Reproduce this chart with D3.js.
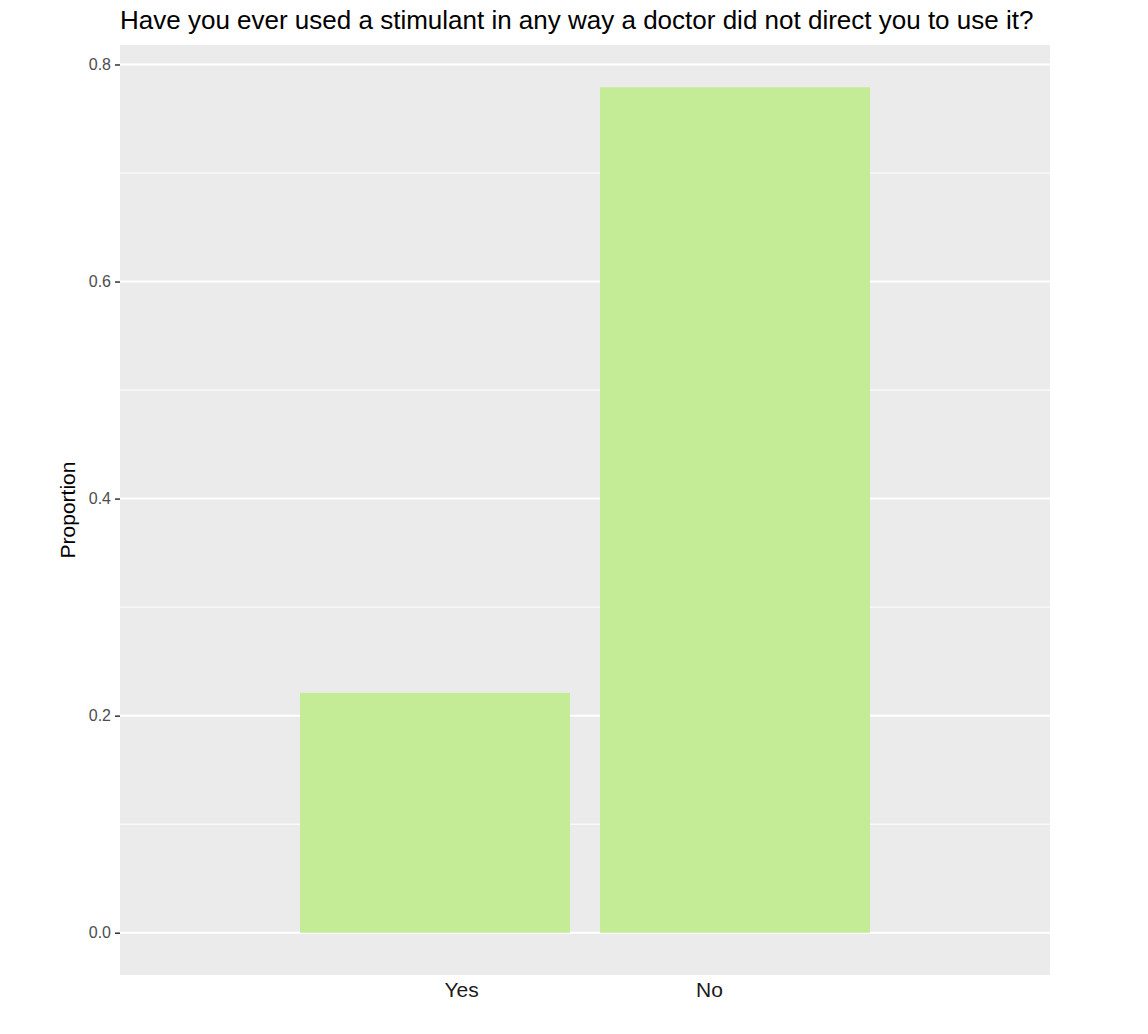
<!DOCTYPE html>
<html>
<head>
<meta charset="utf-8">
<script src="https://d3js.org/d3.v7.min.js"></script>
<style>
  body { margin: 0; background: #ffffff; }
  text { font-family: "Liberation Sans", Arial, sans-serif; }
</style>
</head>
<body>
<div id="vis"></div>
<script>
// data
const CATEGORIES = ["Yes", "No"];
const PROPORTIONS = [0.221, 0.779];
const Y_TICKS = [0.0, 0.2, 0.4, 0.6, 0.8];
const Y_MINOR = [0.1, 0.3, 0.5, 0.7];
const TITLE = "Have you ever used a stimulant in any way a doctor did not direct you to use it?";

const FRAME_WIDTH = 1148;
const FRAME_HEIGHT = 1034;
const MARGINS = {left: 120, right: 98, top: 45, bottom: 59};
const VIS_WIDTH = FRAME_WIDTH - MARGINS.left - MARGINS.right;
const VIS_HEIGHT = FRAME_HEIGHT - MARGINS.top - MARGINS.bottom;

const svg = d3.select("#vis")
  .append("svg")
    .attr("width", FRAME_WIDTH)
    .attr("height", FRAME_HEIGHT);

const data = CATEGORIES.map((c, i) => ({category: c, value: PROPORTIONS[i]}));

// y scale with 5% expansion like ggplot
const MAX_Y = d3.max(PROPORTIONS);
const Y_SCALE = d3.scaleLinear()
  .domain([-0.05 * MAX_Y, MAX_Y * 1.05])
  .range([VIS_HEIGHT, 0]);

// bars
const X_BARS = d3.scaleBand()
  .domain(CATEGORIES)
  .range([0, VIS_WIDTH])
  .paddingInner(0.1)
  .paddingOuter(0.6);

// axis labels sit closer together than the bars
const X_LABELS = d3.scalePoint()
  .domain(CATEGORIES)
  .range([0, VIS_WIDTH])
  .padding(1.375);

const g = svg.append("g")
  .attr("transform", "translate(" + MARGINS.left + "," + MARGINS.top + ")");

// panel background
g.append("rect")
  .attr("width", VIS_WIDTH)
  .attr("height", VIS_HEIGHT)
  .attr("fill", "#ebebeb");

// minor grid
g.selectAll(".minor")
  .data(Y_MINOR)
  .enter()
  .append("line")
    .attr("x1", 0)
    .attr("x2", VIS_WIDTH)
    .attr("y1", d => Y_SCALE(d))
    .attr("y2", d => Y_SCALE(d))
    .attr("stroke", "#ffffff")
    .attr("stroke-width", 1);

// major grid
g.selectAll(".major")
  .data(Y_TICKS)
  .enter()
  .append("line")
    .attr("x1", 0)
    .attr("x2", VIS_WIDTH)
    .attr("y1", d => Y_SCALE(d))
    .attr("y2", d => Y_SCALE(d))
    .attr("stroke", "#ffffff")
    .attr("stroke-width", 2);

// bars
g.selectAll(".bar")
  .data(data)
  .enter()
  .append("rect")
    .attr("x", d => X_BARS(d.category))
    .attr("y", d => Y_SCALE(d.value))
    .attr("width", X_BARS.bandwidth())
    .attr("height", d => Y_SCALE(0) - Y_SCALE(d.value))
    .attr("fill", "#c4eb96");

// y axis
const yAxis = g.append("g")
  .call(d3.axisLeft(Y_SCALE)
    .tickValues(Y_TICKS)
    .tickFormat(d3.format(".1f"))
    .tickSize(5)
    .tickPadding(4));
yAxis.select(".domain").remove();
yAxis.selectAll(".tick line").attr("stroke", "#333333").attr("stroke-width", 1.5);
yAxis.selectAll(".tick text")
  .attr("fill", "#4d4d4d")
  .style("font-size", "16px");

// x axis labels
const xAxis = g.append("g")
  .attr("transform", "translate(0," + VIS_HEIGHT + ")")
  .call(d3.axisBottom(X_LABELS).tickSize(0).tickPadding(7));
xAxis.select(".domain").remove();
xAxis.selectAll(".tick text")
  .attr("fill", "#1a1a1a")
  .style("font-size", "21px");

// axis title
svg.append("text")
  .attr("transform", "translate(75," + (MARGINS.top + VIS_HEIGHT / 2) + ") rotate(-90)")
  .attr("text-anchor", "middle")
  .attr("fill", "#000000")
  .style("font-size", "21px")
  .text("Proportion");

// title
svg.append("text")
  .attr("x", MARGINS.left)
  .attr("y", 29)
  .attr("fill", "#000000")
  .style("font-size", "26px")
  .text(TITLE);
</script>
</body>
</html>
